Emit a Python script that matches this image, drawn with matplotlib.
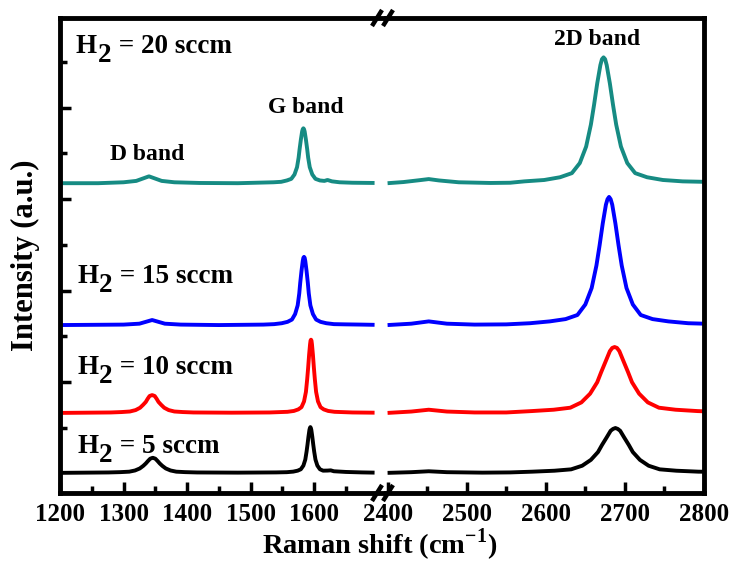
import matplotlib
matplotlib.use('Agg')
import matplotlib.pyplot as plt
from matplotlib.lines import Line2D
from matplotlib.transforms import IdentityTransform
from matplotlib.ticker import FixedLocator

# Raman spectra (offset already included, a.u.)
# H2 = 20 sccm
wn_20_lo = [1200, 1260, 1300, 1320, 1330, 1340, 1350, 1360, 1380, 1420, 1480, 1536, 1548, 1557, 1564, 1569, 1573,
            1575.5, 1577, 1579, 1581, 1582, 1583, 1584, 1585, 1587, 1589, 1590.5, 1593, 1597, 1602, 1609, 1616,
            1621, 1628, 1640, 1660, 1695]
int_20_lo = [5.35, 5.35, 5.37, 5.40, 5.45, 5.50, 5.45, 5.40, 5.37, 5.355, 5.35, 5.37, 5.38, 5.41, 5.445, 5.54, 5.70,
             5.91, 6.09, 6.30, 6.48, 6.53, 6.55, 6.53, 6.48, 6.30, 6.09, 5.91, 5.70, 5.54, 5.445, 5.41, 5.40,
             5.42, 5.39, 5.37, 5.36, 5.355]
wn_20_hi = [2400, 2420, 2440, 2452, 2465, 2490, 2530, 2555, 2573, 2598, 2618, 2633, 2643, 2651, 2657, 2661, 2665,
            2669, 2671, 2673, 2675, 2677, 2681, 2685, 2689, 2695, 2703, 2713, 2728, 2748, 2773, 2800]
int_20_hi = [5.35, 5.375, 5.415, 5.44, 5.41, 5.37, 5.355, 5.36, 5.39, 5.42, 5.48, 5.57, 5.79, 6.15, 6.63, 7.06, 7.53,
             7.93, 8.06, 8.10, 8.06, 7.93, 7.53, 7.06, 6.63, 6.15, 5.79, 5.57, 5.48, 5.42, 5.39, 5.38]

# H2 = 15 sccm
wn_15_lo = [1200, 1300, 1325, 1335, 1345, 1355, 1365, 1390, 1450, 1520, 1537, 1549, 1558, 1565, 1570, 1574, 1576.5,
            1578, 1580, 1582, 1583, 1584, 1585, 1586, 1588, 1590, 1591.5, 1594, 1598, 1603, 1610, 1619, 1631,
            1650, 1675, 1695]
int_15_lo = [2.25, 2.26, 2.28, 2.32, 2.36, 2.32, 2.28, 2.26, 2.25, 2.26, 2.27, 2.29, 2.32, 2.37, 2.49, 2.68, 2.94,
             3.17, 3.43, 3.65, 3.72, 3.74, 3.72, 3.65, 3.43, 3.17, 2.94, 2.68, 2.49, 2.37, 2.32, 2.29, 2.27,
             2.265, 2.26, 2.255]
wn_15_hi = [2400, 2430, 2452, 2475, 2510, 2550, 2580, 2605, 2625, 2640, 2650, 2658, 2664, 2668, 2672, 2676, 2678,
            2680, 2682, 2684, 2688, 2692, 2696, 2702, 2710, 2720, 2735, 2755, 2780, 2800]
int_15_hi = [2.25, 2.28, 2.33, 2.28, 2.26, 2.265, 2.29, 2.33, 2.38, 2.47, 2.70, 3.06, 3.55, 3.99, 4.47, 4.88, 5.00,
             5.05, 5.00, 4.88, 4.47, 3.99, 3.55, 3.06, 2.70, 2.47, 2.38, 2.33, 2.29, 2.28]

# H2 = 10 sccm
wn_10_lo = [1200, 1280, 1297, 1310, 1319, 1326, 1331, 1335, 1338, 1341, 1345, 1349, 1352, 1355, 1359, 1364, 1371,
            1380, 1393, 1410, 1470, 1530, 1558, 1568, 1575, 1580, 1584, 1587, 1589, 1590.5, 1592, 1593.5, 1594.25,
            1595, 1595.75, 1596.5, 1598, 1599.5, 1601, 1603, 1606, 1610, 1615, 1622, 1632, 1660, 1695]
int_10_lo = [0.33, 0.34, 0.349, 0.361, 0.392, 0.443, 0.51, 0.57, 0.64, 0.70, 0.72, 0.70, 0.64, 0.57, 0.51, 0.443,
             0.392, 0.361, 0.349, 0.34, 0.335, 0.34, 0.354, 0.373, 0.407, 0.456, 0.58, 0.79, 1.07, 1.32, 1.60, 1.83,
             1.91, 1.93, 1.91, 1.83, 1.60, 1.32, 1.07, 0.79, 0.58, 0.456, 0.407, 0.373, 0.354, 0.34, 0.335]
wn_10_hi = [2400, 2430, 2452, 2475, 2510, 2550, 2582, 2610, 2631, 2645, 2656, 2665, 2670, 2676, 2681, 2684, 2687,
            2690, 2693, 2698, 2704, 2709, 2718, 2729, 2743, 2764, 2792, 2800]
int_10_hi = [0.33, 0.36, 0.40, 0.36, 0.34, 0.34, 0.37, 0.40, 0.444, 0.56, 0.75, 1.00, 1.22, 1.47, 1.68, 1.75, 1.77,
             1.75, 1.68, 1.47, 1.22, 1.00, 0.75, 0.56, 0.444, 0.40, 0.37, 0.365]

# H2 = 5 sccm
wn_5_lo = [1200, 1276, 1295, 1309, 1318, 1325.5, 1331, 1335, 1338.5, 1342, 1346, 1350, 1353.5, 1357, 1361, 1366.5,
           1374, 1383, 1397, 1416, 1480, 1540, 1557, 1567, 1574, 1579, 1583, 1586, 1588, 1589.5, 1591, 1592.5,
           1593.25, 1594, 1594.75, 1595.5, 1597, 1598.5, 1600, 1602, 1605, 1609, 1614, 1621, 1626, 1631, 1650,
           1675, 1695]
int_5_lo = [-0.98, -0.971, -0.964, -0.954, -0.928, -0.884, -0.827, -0.775, -0.72, -0.67, -0.65, -0.67, -0.72,
            -0.775, -0.827, -0.884, -0.928, -0.954, -0.964, -0.971, -0.975, -0.97, -0.965, -0.953, -0.932, -0.901,
            -0.821, -0.69, -0.516, -0.36, -0.188, -0.041, 0.0, 0.02, 0.0, -0.041, -0.188, -0.36, -0.516, -0.69,
            -0.821, -0.901, -0.932, -0.93, -0.925, -0.945, -0.96, -0.97, -0.975]
wn_5_hi = [2400, 2430, 2452, 2475, 2520, 2555, 2583, 2611, 2632, 2646, 2657, 2666, 2671, 2677, 2682, 2685, 2688,
           2691, 2694, 2699, 2705, 2710, 2719, 2730, 2744, 2765, 2793, 2800]
int_5_hi = [-0.98, -0.965, -0.945, -0.965, -0.975, -0.97, -0.954, -0.933, -0.903, -0.824, -0.696, -0.525, -0.372,
            -0.204, -0.06, -0.02, 0.0, -0.02, -0.06, -0.204, -0.372, -0.525, -0.696, -0.824, -0.903, -0.933,
            -0.954, -0.955]

labels = ['20 sccm', '15 sccm', '10 sccm', '5 sccm']
colors = ['#168b83', '#0000ff', '#ff0000', '#000000']

W, H = 736, 567
fig = plt.figure(figsize=(W / 100, H / 100), dpi=100)
plt.rcParams['font.family'] = ['Liberation Serif', 'DejaVu Serif']
plt.rcParams['font.weight'] = 'bold'
plt.rcParams['mathtext.fontset'] = 'custom'
plt.rcParams['mathtext.rm'] = 'Liberation Serif:bold'
plt.rcParams['mathtext.bf'] = 'Liberation Serif:bold'


def px_box(x0, x1, ytop, ybot):
    # axes rectangle from pixel edges (y measured from the top)
    return [x0 / W, 1 - ybot / H, (x1 - x0) / W, (ybot - ytop) / H]


ax1 = fig.add_axes(px_box(60, 386, 18, 493))
ax2 = fig.add_axes(px_box(386, 704, 18, 493))

spectra = [(wn_20_lo, int_20_lo, wn_20_hi, int_20_hi),
           (wn_15_lo, int_15_lo, wn_15_hi, int_15_hi),
           (wn_10_lo, int_10_lo, wn_10_hi, int_10_hi),
           (wn_5_lo, int_5_lo, wn_5_hi, int_5_hi)]
for (xl, yl, xh, yh), c in zip(spectra, colors):
    ax1.plot(xl, yl, color=c, lw=2.8, solid_joinstyle='round', solid_capstyle='butt')
    ax2.plot(xh, yh, color=c, lw=2.8, solid_joinstyle='round', solid_capstyle='butt')

ax1.set_xlim(1200, 1713)
ax2.set_xlim(2398, 2800)
for ax in (ax1, ax2):
    ax.set_ylim(-1.42, 8.96)
    for sp in ax.spines.values():
        sp.set_linewidth(3.5)
    ax.tick_params(which='both', direction='in', top=False, right=False, width=2.5,
                   labelsize=18, pad=7)
    ax.tick_params(which='major', length=8)
    ax.tick_params(which='minor', length=5)
ax1.spines['right'].set_visible(False)
ax2.spines['left'].set_visible(False)

ax1.xaxis.set_major_locator(FixedLocator([1200, 1300, 1400, 1500, 1600]))
ax1.xaxis.set_minor_locator(FixedLocator([1250, 1350, 1450, 1550, 1650]))
ax2.xaxis.set_major_locator(FixedLocator([2400, 2500, 2600, 2700, 2800]))
ax2.xaxis.set_minor_locator(FixedLocator([2450, 2550, 2650, 2750]))
ax1.yaxis.set_major_locator(FixedLocator([1, 3, 5, 7]))
ax1.yaxis.set_minor_locator(FixedLocator([0, 2, 4, 6, 8]))
ax1.tick_params(axis='y', which='both', labelleft=False)
ax2.tick_params(axis='y', which='both', left=False, labelleft=False)

# break marks
for yb in (18, 493):
    for xb in (377, 388):
        fig.add_artist(Line2D([xb - 5, xb + 5], [H - (yb + 8), H - (yb - 8)], color='black', lw=3.2,
                              transform=IdentityTransform(), solid_capstyle='butt'))

# sample labels with a full-size lowered subscript
r = fig.canvas.get_renderer()
lab_pos = [(76, 53), (77, 283), (77, 374), (77, 453)]
for (x, y), txt in zip(lab_pos, labels):
    kw = dict(fontsize=19.5, fontweight='bold', va='baseline', ha='left', transform=IdentityTransform())
    t = fig.text(x, H - y, 'H', **kw)
    bb = t.get_window_extent(r)
    t2 = fig.text(bb.x1 + 1, H - y - 9, '2', **kw)
    bb2 = t2.get_window_extent(r)
    fig.text(bb2.x1, H - y, ' = ' + txt, **kw)

band_kw = dict(fontsize=17, fontweight='bold', ha='center', va='baseline')
fig.text(147 / W, 1 - 160 / H, 'D band', **band_kw)
fig.text(306 / W, 1 - 113 / H, 'G band', **band_kw)
fig.text(597 / W, 1 - 45 / H, '2D band', **band_kw)

fig.text(380 / W, 1 - 554 / H, r'Raman shift (cm$^{\mathbf{-1}}$)', fontsize=20.5, fontweight='bold',
         ha='center', va='baseline')
fig.text(25 / W, 1 - 255 / H, 'Intensity (a.u.)', fontsize=22, fontweight='bold', rotation=90,
         ha='center', va='center')

fig.savefig('out.png', dpi=100)
